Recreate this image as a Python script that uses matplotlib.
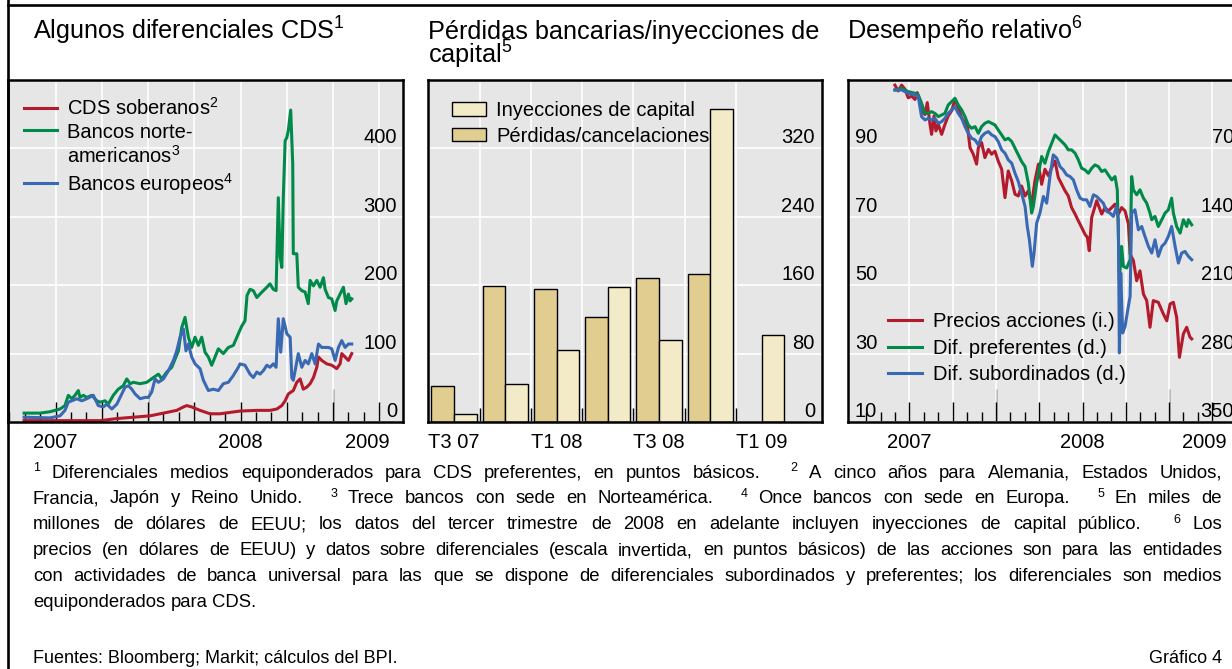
import numpy as np
import matplotlib
matplotlib.use("Agg")
import matplotlib.pyplot as plt
import matplotlib.transforms as mtransforms
from matplotlib.lines import Line2D
from matplotlib.patches import Patch

plt.rcParams["font.family"] = ["Liberation Sans", "DejaVu Sans"]
plt.rcParams["mathtext.fontset"] = "custom"
plt.rcParams["mathtext.rm"] = "Liberation Sans"
plt.rcParams["mathtext.it"] = "Liberation Sans:italic"
plt.rcParams["mathtext.bf"] = "Liberation Sans:bold"
plt.rcParams["mathtext.sf"] = "Liberation Sans"

# ------------------------------------------------------------------ data
# Panel 1: CDS spreads (basis points); time as decimal years
sov_t = [2007.330, 2007.561, 2007.741, 2007.831, 2007.921, 2008.011, 2008.101, 2008.155, 2008.191, 2008.209,
         2008.236, 2008.281, 2008.335, 2008.389, 2008.443, 2008.497, 2008.588, 2008.659, 2008.696, 2008.723,
         2008.741, 2008.758, 2008.785, 2008.804, 2008.822, 2008.839, 2008.858, 2008.876, 2008.894, 2008.912,
         2008.921, 2008.939, 2008.966, 2008.993, 2009.020, 2009.038, 2009.047, 2009.065, 2009.083, 2009.101]
sov_v = [2, 2, 2, 5, 7, 9, 14, 17, 22, 24,
         22, 17, 12, 12, 14, 16, 17, 17, 19, 24,
         31, 41, 46, 58, 63, 48, 51, 56, 65, 80,
         95, 90, 85, 83, 78, 85, 100, 95, 90, 100]

us_t = [2007.330, 2007.416, 2007.470, 2007.497, 2007.524, 2007.551, 2007.569, 2007.588, 2007.605, 2007.623,
        2007.632, 2007.650, 2007.669, 2007.696, 2007.723, 2007.741, 2007.768, 2007.785, 2007.812, 2007.839,
        2007.866, 2007.885, 2007.903, 2007.921, 2007.957, 2007.993, 2008.029, 2008.056, 2008.074, 2008.101,
        2008.128, 2008.146, 2008.164, 2008.182, 2008.200, 2008.209, 2008.218, 2008.236, 2008.254, 2008.272,
        2008.290, 2008.308, 2008.326, 2008.344, 2008.362, 2008.380, 2008.407, 2008.434, 2008.461, 2008.488,
        2008.506, 2008.524, 2008.535, 2008.551, 2008.569, 2008.588, 2008.605, 2008.623, 2008.642, 2008.659,
        2008.677, 2008.692, 2008.704, 2008.714, 2008.723, 2008.731, 2008.741, 2008.750, 2008.758, 2008.771,
        2008.782, 2008.785, 2008.804, 2008.812, 2008.831, 2008.849, 2008.866, 2008.876, 2008.894, 2008.912,
        2008.930, 2008.948, 2008.957, 2008.975, 2008.993, 2009.011, 2009.020, 2009.038, 2009.056, 2009.070,
        2009.083, 2009.092, 2009.101]
us_v = [13, 13, 15, 17, 19, 24, 39, 34, 39, 46,
        36, 39, 36, 39, 31, 29, 31, 26, 39, 48,
        53, 63, 56, 58, 56, 58, 65, 70, 63, 73,
        80, 92, 104, 138, 153, 138, 124, 109, 124, 112,
        124, 102, 95, 83, 95, 107, 100, 109, 112, 129,
        140, 148, 185, 194, 192, 182, 187, 192, 197, 202,
        194, 192, 328, 241, 226, 328, 411, 416, 426, 456,
        377, 246, 246, 197, 192, 190, 173, 207, 199, 207,
        197, 211, 194, 182, 180, 163, 177, 187, 197, 173,
        187, 177, 180]

eu_t = [2007.330, 2007.470, 2007.524, 2007.551, 2007.569, 2007.588, 2007.615, 2007.642, 2007.669, 2007.704,
        2007.731, 2007.758, 2007.777, 2007.804, 2007.831, 2007.858, 2007.876, 2007.894, 2007.912, 2007.930,
        2007.957, 2007.984, 2008.002, 2008.020, 2008.038, 2008.056, 2008.083, 2008.110, 2008.137, 2008.155,
        2008.173, 2008.191, 2008.205, 2008.218, 2008.236, 2008.254, 2008.281, 2008.299, 2008.326, 2008.353,
        2008.380, 2008.407, 2008.434, 2008.461, 2008.488, 2008.497, 2008.524, 2008.551, 2008.569, 2008.588,
        2008.605, 2008.623, 2008.642, 2008.659, 2008.677, 2008.692, 2008.704, 2008.717, 2008.731, 2008.750,
        2008.768, 2008.777, 2008.785, 2008.795, 2008.812, 2008.831, 2008.849, 2008.866, 2008.885, 2008.903,
        2008.921, 2008.939, 2008.957, 2008.975, 2008.993, 2009.011, 2009.029, 2009.047, 2009.065, 2009.083,
        2009.101]
eu_v = [7, 6, 9, 17, 29, 31, 34, 31, 34, 39,
        24, 22, 26, 19, 26, 41, 51, 53, 48, 41,
        34, 36, 36, 44, 63, 58, 63, 75, 90, 104,
        124, 136, 104, 114, 95, 85, 78, 61, 46, 48,
        46, 56, 58, 68, 80, 85, 83, 70, 65, 73,
        70, 75, 83, 80, 85, 80, 151, 102, 151, 129,
        124, 65, 61, 75, 100, 80, 90, 85, 100, 85,
        114, 109, 109, 109, 107, 90, 109, 119, 109, 114,
        114]

# Panel 2: bank losses / capital injections (USD bn)
quarters = ["T3 07", "T4 07", "T1 08", "T2 08", "T3 08", "T4 08", "T1 09"]
perdidas = [42.5, 159.6, 156.0, 123.0, 169.0, 173.0, np.nan]
inyecciones = [9.0, 44.5, 84.7, 158.4, 96.0, 366.4, 101.5]
quarter_labels = ["T3 07", "", "T1 08", "", "T3 08", "", "T1 09"]

# Panel 3: relative performance
px_t = [2007.416, 2007.435, 2007.455, 2007.474, 2007.493, 2007.513, 2007.532, 2007.545, 2007.561, 2007.576,
        2007.590, 2007.603, 2007.619, 2007.628, 2007.642, 2007.653, 2007.667, 2007.686, 2007.705, 2007.724,
        2007.744, 2007.763, 2007.782, 2007.802, 2007.821, 2007.834, 2007.850, 2007.869, 2007.888, 2007.898,
        2007.917, 2007.936, 2007.956, 2007.975, 2007.994, 2008.013, 2008.033, 2008.052, 2008.071, 2008.091,
        2008.110, 2008.129, 2008.148, 2008.168, 2008.187, 2008.206, 2008.225, 2008.245, 2008.264, 2008.283,
        2008.303, 2008.322, 2008.341, 2008.360, 2008.380, 2008.399, 2008.418, 2008.437, 2008.457, 2008.476,
        2008.495, 2008.514, 2008.528, 2008.539, 2008.553, 2008.582, 2008.611, 2008.630, 2008.649, 2008.669,
        2008.688, 2008.707, 2008.726, 2008.746, 2008.765, 2008.775, 2008.794, 2008.813, 2008.832, 2008.852,
        2008.871, 2008.890, 2008.909, 2008.938, 2008.967, 2008.987, 2009.006, 2009.025, 2009.044, 2009.060,
        2009.083, 2009.102, 2009.121, 2009.131]
px_v = [108.5, 106.8, 108.5, 107.3, 104.8, 105.3, 104.3, 106.3, 103.9, 100.4,
        99.9, 103.4, 97.0, 94.1, 99.5, 95.1, 97.0, 94.1, 97.0, 99.5,
        101.0, 104.3, 101.9, 98.9, 97.5, 97.0, 90.2, 88.3, 85.4, 90.2,
        91.7, 87.3, 89.7, 88.3, 89.2, 86.3, 83.9, 75.6, 83.4, 80.5,
        76.6, 76.1, 79.0, 76.1, 77.6, 73.7, 80.5, 85.4, 79.5, 83.9,
        82.0, 84.4, 86.3, 81.5, 79.5, 77.6, 76.1, 72.7, 70.8, 68.8,
        66.9, 64.9, 64.0, 60.1, 69.8, 74.7, 70.8, 72.7, 71.7, 72.7,
        73.7, 70.8, 72.7, 71.7, 67.9, 59.1, 57.2, 51.3, 54.2, 47.4,
        45.5, 37.7, 45.5, 45.0, 41.6, 39.6, 44.5, 45.0, 40.6, 28.9,
        35.8, 37.7, 34.8, 34.3]

pref_t = [2007.416, 2007.455, 2007.493, 2007.532, 2007.551, 2007.570, 2007.590, 2007.609, 2007.628, 2007.647,
          2007.667, 2007.686, 2007.705, 2007.724, 2007.744, 2007.763, 2007.782, 2007.802, 2007.821, 2007.840,
          2007.859, 2007.879, 2007.898, 2007.917, 2007.936, 2007.956, 2007.975, 2007.994, 2008.013, 2008.033,
          2008.052, 2008.071, 2008.091, 2008.110, 2008.129, 2008.148, 2008.168, 2008.187, 2008.206, 2008.216,
          2008.235, 2008.264, 2008.283, 2008.303, 2008.322, 2008.341, 2008.360, 2008.380, 2008.399, 2008.418,
          2008.437, 2008.457, 2008.476, 2008.495, 2008.514, 2008.534, 2008.553, 2008.572, 2008.592, 2008.611,
          2008.630, 2008.649, 2008.669, 2008.688, 2008.701, 2008.713, 2008.726, 2008.736, 2008.755, 2008.775,
          2008.784, 2008.794, 2008.813, 2008.832, 2008.852, 2008.871, 2008.890, 2008.900, 2008.919, 2008.938,
          2008.958, 2008.977, 2008.996, 2009.015, 2009.025, 2009.044, 2009.064, 2009.083, 2009.102, 2009.112,
          2009.131]
pref_v = [10.2, 8.5, 11.9, 13.6, 15.3, 23.8, 34.1, 34.1, 32.4, 34.1,
          37.5, 35.8, 34.1, 25.5, 22.1, 18.7, 25.5, 30.7, 37.5, 46.0,
          49.4, 47.7, 54.5, 47.7, 44.3, 42.6, 44.3, 46.0, 51.1, 56.2,
          61.3, 59.6, 63.0, 69.8, 76.6, 83.4, 88.6, 105.6, 136.2, 129.4,
          105.6, 78.3, 85.2, 73.2, 64.7, 56.2, 59.6, 63.0, 66.4, 71.5,
          71.5, 74.9, 81.7, 90.3, 92.0, 95.4, 90.3, 86.9, 88.6, 93.7,
          92.0, 97.1, 102.2, 98.8, 112.4, 204.4, 170.3, 190.7, 192.4, 183.9,
          98.8, 112.4, 117.5, 112.4, 120.9, 126.0, 136.2, 143.0, 139.6, 149.9,
          143.0, 136.2, 132.8, 120.9, 136.2, 149.9, 156.7, 143.0, 149.9, 143.0,
          148.2]

sub_t = [2007.416, 2007.455, 2007.493, 2007.532, 2007.551, 2007.570, 2007.590, 2007.609, 2007.628, 2007.647,
         2007.667, 2007.686, 2007.705, 2007.724, 2007.744, 2007.763, 2007.782, 2007.802, 2007.821, 2007.840,
         2007.859, 2007.879, 2007.898, 2007.917, 2007.936, 2007.956, 2007.975, 2007.994, 2008.013, 2008.033,
         2008.052, 2008.071, 2008.091, 2008.110, 2008.129, 2008.148, 2008.168, 2008.181, 2008.193, 2008.210,
         2008.220, 2008.235, 2008.254, 2008.274, 2008.293, 2008.312, 2008.331, 2008.351, 2008.370, 2008.389,
         2008.408, 2008.428, 2008.447, 2008.466, 2008.486, 2008.505, 2008.524, 2008.543, 2008.563, 2008.582,
         2008.601, 2008.620, 2008.640, 2008.659, 2008.678, 2008.697, 2008.707, 2008.713, 2008.721, 2008.732,
         2008.746, 2008.765, 2008.775, 2008.784, 2008.803, 2008.823, 2008.842, 2008.861, 2008.881, 2008.900,
         2008.919, 2008.938, 2008.958, 2008.977, 2008.996, 2009.015, 2009.035, 2009.054, 2009.073, 2009.092,
         2009.112, 2009.131]
sub_v = [10.2, 10.2, 13.6, 15.3, 17.0, 37.5, 40.9, 39.2, 40.9, 39.2,
         44.3, 42.6, 39.2, 34.1, 30.7, 27.2, 34.1, 39.2, 47.7, 54.5,
         59.6, 61.3, 66.4, 57.9, 54.5, 52.8, 56.2, 57.9, 63.0, 71.5,
         74.9, 81.7, 85.2, 95.4, 103.9, 115.8, 129.4, 149.9, 163.5, 190.7,
         177.1, 146.5, 136.2, 119.2, 126.0, 98.8, 76.6, 80.0, 88.6, 92.0,
         97.1, 98.8, 102.2, 112.4, 120.9, 122.6, 122.6, 129.4, 117.5, 119.2,
         122.6, 126.0, 134.5, 136.2, 139.6, 129.4, 143.0, 279.3, 197.5, 258.9,
         252.0, 231.6, 221.4, 136.2, 132.8, 153.3, 149.9, 160.1, 170.3, 177.1,
         163.5, 180.5, 170.3, 166.9, 160.1, 149.9, 170.3, 187.3, 177.1, 175.4,
         180.5, 183.9]

p1_yticks = [0, 100, 200, 300, 400]
p2_yticks = [0, 80, 160, 240, 320]
p3_left_ticks = [10, 30, 50, 70, 90]
p3_right_ticks = [70, 140, 210, 280, 350]
year_labels = ["2007", "2008", "2009"]

footnotes = [
    "^1 Diferenciales medios equiponderados para CDS preferentes, en puntos básicos. ^2 A cinco años para Alemania, Estados Unidos,",
    "Francia, Japón y Reino Unido. ^3 Trece bancos con sede en Norteamérica. ^4 Once bancos con sede en Europa. ^5 En miles de",
    "millones de dólares de EEUU; los datos del tercer trimestre de 2008 en adelante incluyen inyecciones de capital público. ^6 Los",
    "precios (en dólares de EEUU) y datos sobre diferenciales (escala invertida, en puntos básicos) de las acciones son para las entidades",
    "con actividades de banca universal para las que se dispone de diferenciales subordinados y preferentes; los diferenciales son medios",
    "equiponderados para CDS.",
]

# ------------------------------------------------------------------ style
RED = "#B31B2D"
GREEN = "#008A4A"
BLUE = "#3A69B3"
BG = "#E6E6E6"
DARK = "#E2CD91"
LIGHT = "#F3EAC8"
LW = 2.2
TICK_FS = 14.5
TITLE_FS = 18.2
FOOT_FS = 13.3
PX = 72.0 / 100.0   # points per pixel

W, H = 1232, 669
fig = plt.figure(figsize=(W / 100, H / 100), dpi=100)
fig.patch.set_facecolor("white")


def fx(p):
    return p / W


def fy(p):
    return 1 - p / H


def make_ax(x0, x1, y0, y1):
    ax = fig.add_axes([fx(x0), fy(y1), (x1 - x0) / W, (y1 - y0) / H])
    ax.set_facecolor(BG)
    for s in ax.spines.values():
        s.set_color("black")
        s.set_linewidth(1.8)
    ax.set_axisbelow(True)
    return ax


def time_axis(ax, tmin, tmax, tick_start, tick_end):
    ax.set_xlim(tmin, tmax)
    months = [y + m / 12 for y in (2007, 2008, 2009) for m in range(12)]
    months = [m for m in months if tick_start - 1e-6 <= m <= tick_end + 1e-6]
    quarters_t = [2007.5, 2007.75, 2008.0, 2008.25, 2008.5, 2008.75, 2009.0, 2009.25]
    ax.set_xticks(quarters_t)
    ax.set_xticks(months, minor=True)
    ax.tick_params(axis="x", which="major", direction="in", length=20 * PX, width=1.0,
                   labelbottom=False, color="black")
    ax.tick_params(axis="x", which="minor", direction="in", length=10 * PX, width=1.0,
                   color="black")
    ax.grid(axis="x", which="major", color="white", lw=1.2)
    sec = ax.secondary_xaxis("bottom")
    sec.set_xticks([2008.0, 2009.0])
    sec.tick_params(direction="in", length=33 * PX, width=1.0, labelbottom=False)
    for s in sec.spines.values():
        s.set_visible(False)


def y_grid(ax, vals):
    ax.set_yticks(vals)
    ax.tick_params(axis="y", length=0, labelleft=False, labelright=False)
    ax.grid(axis="y", color="white", lw=1.2)


def y_labels(ax, vals, side, inset_px, axw_px):
    base = mtransforms.blended_transform_factory(ax.transAxes, ax.transData)
    tr = mtransforms.offset_copy(base, fig=fig, x=0, y=5 * PX, units="points")
    for v in vals:
        if side == "right":
            ax.text(1 - inset_px / axw_px, v, str(v), transform=tr, ha="right",
                    va="baseline", fontsize=TICK_FS)
        else:
            ax.text(inset_px / axw_px, v, str(v), transform=tr, ha="left",
                    va="baseline", fontsize=TICK_FS)


def x_label_data(ax, x, s):
    base = mtransforms.blended_transform_factory(ax.transData, ax.transAxes)
    tr = mtransforms.offset_copy(base, fig=fig, y=-26 * PX, units="points")
    ax.text(x, 0, s, transform=tr, ha="center", va="baseline", fontsize=TICK_FS)


def x_label_right(ax, s, inset_px, axw_px):
    tr = mtransforms.offset_copy(ax.transAxes, fig=fig, y=-26 * PX, units="points")
    ax.text(1 - inset_px / axw_px, 0, s, transform=tr, ha="right", va="baseline",
            fontsize=TICK_FS)


# ------------------------------------------------------------------ panel 1
A1 = (8, 403, 80, 422)
ax1 = make_ax(*A1)
w1 = A1[1] - A1[0]
time_axis(ax1, 2007.243, 2009.378, 2007.25, 2009.25)
ax1.set_ylim(0, 500)
y_grid(ax1, p1_yticks)
ax1.plot(sov_t, sov_v, color=RED, lw=LW)
ax1.plot(us_t, us_v, color=GREEN, lw=LW)
ax1.plot(eu_t, eu_v, color=BLUE, lw=LW)
y_labels(ax1, p1_yticks, "right", 6, w1)
x_label_data(ax1, 2007.5, year_labels[0])
x_label_data(ax1, 2008.5, year_labels[1])
x_label_right(ax1, year_labels[2], 13, w1)
h1 = [Line2D([], [], color=RED, lw=LW), Line2D([], [], color=GREEN, lw=LW),
      Line2D([], [], color="none", lw=0), Line2D([], [], color=BLUE, lw=LW)]
l1 = ["CDS soberanos$^2$", "Bancos norte-", "americanos$^3$", "Bancos europeos$^4$"]
ax1.legend(h1, l1, loc="upper left", bbox_to_anchor=(16 / w1, (422 - 97) / 342),
           frameon=False, fontsize=TICK_FS, handlelength=1.64, handletextpad=0.5,
           labelspacing=0.18, borderpad=0, borderaxespad=0)

# ------------------------------------------------------------------ panel 2
A2 = (428, 822, 80, 422)
ax2 = make_ax(*A2)
w2 = A2[1] - A2[0]
xq = np.arange(len(quarters))
ax2.set_xlim(-0.508, 7.18)
ax2.set_ylim(0, 400)
y_grid(ax2, p2_yticks)
ax2.set_xticks(xq[:-1] + 0.5)
ax2.tick_params(axis="x", direction="in", length=14 * PX, width=1.0, labelbottom=False)
ax2.grid(axis="x", color="white", lw=1.2)
bw = 0.443
perd = np.array(perdidas)
ok = np.isfinite(perd)
ax2.bar(xq[ok] - bw / 2, perd[ok], width=bw, color=DARK, edgecolor="black", lw=1.0)
ax2.bar(xq + bw / 2, inyecciones, width=bw, color=LIGHT, edgecolor="black", lw=1.0)
y_labels(ax2, p2_yticks, "right", 7, w2)
for xi, lab in zip(xq, quarter_labels):
    if lab:
        x_label_data(ax2, xi, lab)
h2 = [Patch(facecolor=LIGHT, edgecolor="black", lw=1.0),
      Patch(facecolor=DARK, edgecolor="black", lw=1.0)]
ax2.legend(h2, ["Inyecciones de capital", "Pérdidas/cancelaciones"], loc="upper left",
           bbox_to_anchor=(24 / w2, (422 - 101) / 342), frameon=False, fontsize=TICK_FS,
           handlelength=1.69, handleheight=0.65, handletextpad=0.5, labelspacing=0.33,
           borderpad=0, borderaxespad=0)

# ------------------------------------------------------------------ panel 3
A3 = (848, 1240, 80, 422)
ax3 = make_ax(*A3)
w3 = A3[1] - A3[0]
time_axis(ax3, 2007.145, 2009.41, 2007.25, 2009.167)
ax3.set_ylim(10, 110)
y_grid(ax3, p3_left_ticks)
ax3.plot(px_t, px_v, color=RED, lw=LW)
ax3r = ax3.twinx()
ax3r.set_ylim(350, 0)
ax3r.set_yticks([])
for s in ax3r.spines.values():
    s.set_visible(False)
ax3r.plot(pref_t, pref_v, color=GREEN, lw=LW)
ax3r.plot(sub_t, sub_v, color=BLUE, lw=LW)
y_labels(ax3, p3_left_ticks, "left", 7, w3)
y_labels(ax3r, p3_right_ticks, "right", 6, w3)
x_label_data(ax3, 2007.5, year_labels[0])
x_label_data(ax3, 2008.5, year_labels[1])
x_label_right(ax3, year_labels[2], 13, w3)
h3 = [Line2D([], [], color=RED, lw=LW), Line2D([], [], color=GREEN, lw=LW),
      Line2D([], [], color=BLUE, lw=LW)]
ax3r.legend(h3, ["Precios acciones (i.)", "Dif. preferentes (d.)", "Dif. subordinados (d.)"],
            loc="upper left", bbox_to_anchor=(40 / w3, (422 - 312) / 342), frameon=False,
            fontsize=TICK_FS, handlelength=1.69, handletextpad=0.55, labelspacing=0.38,
            borderpad=0, borderaxespad=0)

# ------------------------------------------------------------------ titles
fig.text(fx(33), fy(39.5), "Algunos diferenciales CDS$^1$", fontsize=TITLE_FS, va="baseline")
# two-line title: va="baseline" anchors the last line's baseline
fig.text(fx(428), fy(64), "Pérdidas bancarias/inyecciones de\ncapital$^5$", fontsize=TITLE_FS,
         va="baseline", linespacing=0.82)
fig.text(fx(847), fy(39.5), "Desempeño relativo$^6$", fontsize=TITLE_FS, va="baseline")

# ------------------------------------------------------------------ frame
fig.add_artist(Line2D([fx(8), fx(8)], [0, 1], transform=fig.transFigure, color="black", lw=1.9))
fig.add_artist(Line2D([fx(8), 1], [fy(4.7), fy(4.7)], transform=fig.transFigure,
                      color="black", lw=1.9))

# ------------------------------------------------------------------ footnotes
renderer = fig.canvas.get_renderer()


def foot_line(line, y_base, justify, x0=33, x1=1222):
    fs = FOOT_FS
    while True:
        items = []
        for tk in line.split(" "):
            if tk.startswith("^"):
                t = fig.text(0, 0, tk[1:], fontsize=fs * 0.68, va="baseline", ha="left")
                items.append((t, True))
            else:
                t = fig.text(0, 0, tk, fontsize=fs, va="baseline", ha="left")
                items.append((t, False))
        widths = [t.get_window_extent(renderer).width for t, _ in items]
        weights = [2.6 if items[i][1] else 1.0 for i in range(1, len(items))]
        if justify:
            unit = (x1 - x0 - sum(widths)) / sum(weights)
        else:
            unit = 5.1
        if unit >= 3.0 or fs < 10:
            break
        for t, _ in items:
            t.remove()
        fs -= 0.2
    x = x0
    for i, ((t, sup), w) in enumerate(zip(items, widths)):
        if i > 0:
            x += weights[i - 1] * unit
        yy = y_base - (6.5 if sup else 0)
        t.set_position((fx(x), fy(yy)))
        x += w


for i, line in enumerate(footnotes):
    foot_line(line, 477.5 + 25.9 * i, justify=(i < len(footnotes) - 1))

fig.text(fx(33), fy(663), "Fuentes: Bloomberg; Markit; cálculos del BPI.", fontsize=13.0,
         va="baseline")
fig.text(fx(1222), fy(663), "Gráfico 4", fontsize=13.0, va="baseline", ha="right")

fig.savefig("out.png", dpi=100)
